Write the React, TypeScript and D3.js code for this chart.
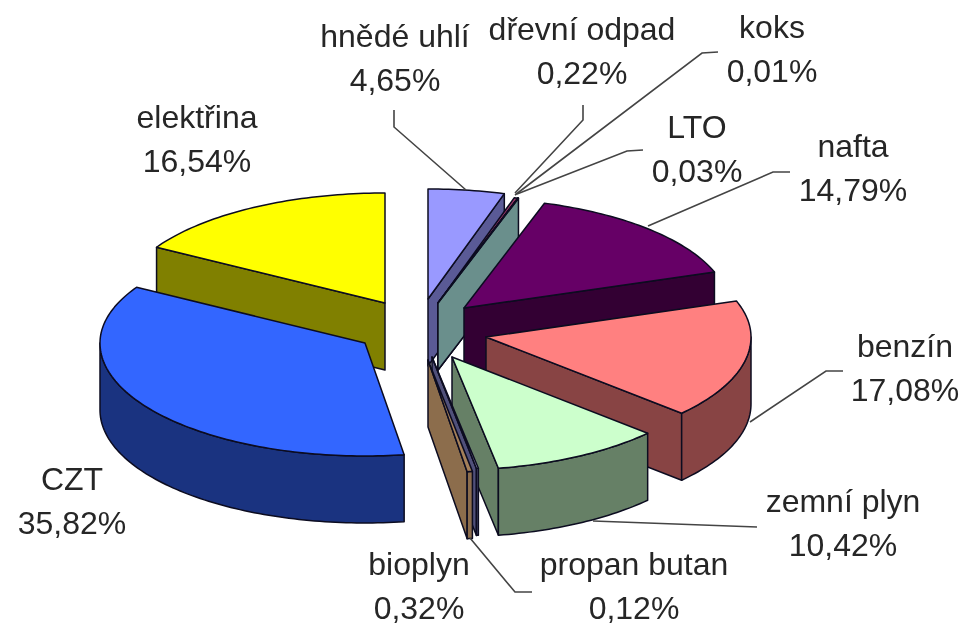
import React from "react";
import * as d3 from "d3";

const categories = ["hnědé uhlí","dřevní odpad","koks","LTO","nafta","benzín","zemní plyn","propan butan","bioplyn","CZT","elektřina"];
const shares = [4.65,0.22,0.01,0.03,14.79,17.08,10.42,0.12,0.32,35.82,16.54];
const shareLabels = ["4,65%","0,22%","0,01%","0,03%","14,79%","17,08%","10,42%","0,12%","0,32%","35,82%","16,54%"];
const topColors = ["#9999FF","#993366","#FFFFCC","#CCFFFF","#660066","#FF8080","#CCFFCC","#CCCCFF","#A5805A","#3366FF","#FFFF00"];
const wallColors = ["#5A5A96","#4C1933","#808066","#6A8F8C","#330033","#884444","#668066","#50507A","#8C6D4C","#1A3380","#808000"];

// layout
const RX = 265, RY_BACK = 110, RY_FRONT = 113, DEPTH = 67;
const apexes: [number,number][] = [[428,299],[438,303],[438,303],[438,303],[464,308],[486,337],[452,357],[432,357],[428,360],[365,343],[385,303]];
const labelPos: [number,number][] = [[395,47],[582,40],[772,38],[697,138],[853,157],[905,357],[843,512],[634,575],[419,575],[72,490],[197,128]];
const LINE_GAP = 44;
const leaders: [number,number][][] = [
  [[394,110],[394,127],[466,190]],
  [[583,105],[583,120],[515,193]],
  [[718,52],[702,53],[515,195]],
  [[643,150],[627,151],[517,194]],
  [[790,172],[773,172],[648,226]],
  [[843,371],[826,371],[750,422]],
  [[757,527],[593,521]],
  [[532,592],[515,592],[470,538]],
];
const drawOrder = [10,9,0,1,2,3,4,5,6,7,8];

const pieGen = d3.pie<number>().sort(null).value(d=>d);
const arcs = pieGen(shares);

const pt = (i:number,a:number,dy=0):[number,number] => {
  const c=Math.cos(a);
  return [apexes[i][0]+RX*Math.sin(a), apexes[i][1]-(c>0?RY_BACK:RY_FRONT)*c+dy];
};
const curve = d3.line();
function samples(a0:number,a1:number){ const n=Math.max(2,Math.ceil(Math.abs(a1-a0)/0.02)); return d3.range(n+1).map(k=>a0+(a1-a0)*k/n); }

function Slice({i}:{i:number}){
  const {startAngle:a0,endAngle:a1}=arcs[i];
  const walls:[number,number][][]=[];
  if(Math.sin(a0)<-1e-6) walls.push([apexes[i],pt(i,a0),pt(i,a0,DEPTH),[apexes[i][0],apexes[i][1]+DEPTH]]);
  if(Math.sin(a1)>1e-6) walls.push([apexes[i],pt(i,a1),pt(i,a1,DEPTH),[apexes[i][0],apexes[i][1]+DEPTH]]);
  const s0=Math.max(a0,Math.PI/2), s1=Math.min(a1,Math.PI*3/2);
  const rim:[number,number][]|null = s1>s0 ? [...samples(s0,s1).map(a=>pt(i,a)),...samples(s1,s0).map(a=>pt(i,a,DEPTH))] : null;
  const top:[number,number][]=[apexes[i],...samples(a0,a1).map(a=>pt(i,a))];
  const st={stroke:"#0c0c20",strokeWidth:1.5,strokeLinejoin:"round" as const};
  return <g>
    {walls.map((w,k)=><path key={k} d={curve(w)+"Z"} fill={wallColors[i]} {...st}/>)}
    {rim && <path d={curve(rim)+"Z"} fill={wallColors[i]} {...st}/>}
    <path d={curve(top)+"Z"} fill={topColors[i]} {...st}/>
  </g>;
}

export default function App(){
  return <svg width={964} height={626} style={{position:"absolute",left:0,top:0,background:"#fff"}}>
    <g style={{filter:"blur(0.5px)"}}>
      {drawOrder.map(i=><Slice key={i} i={i}/>)}
      {leaders.map((l,k)=><path key={k} d={curve(l)!} fill="none" stroke="#444" strokeWidth={1.6}/>)}
      {categories.map((c,i)=><text key={c} x={labelPos[i][0]} y={labelPos[i][1]} textAnchor="middle" fontFamily="'Liberation Sans',Arial,sans-serif" fontSize={32} fill="#262626">
        <tspan x={labelPos[i][0]}>{c}</tspan>
        <tspan x={labelPos[i][0]} dy={LINE_GAP}>{shareLabels[i]}</tspan>
      </text>)}
    </g>
  </svg>;
}
